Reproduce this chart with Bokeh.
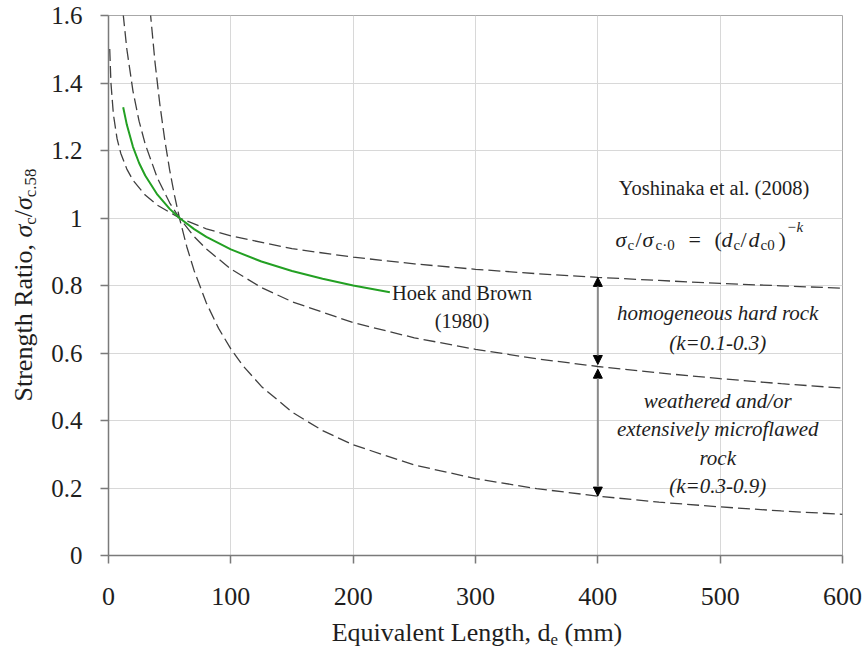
from bokeh.plotting import figure
from bokeh.layouts import row, column
from bokeh.models import (Range1d, FixedTicker, CustomJSTickFormatter, Label,
                          Arrow, NormalHead, ColumnDataSource, Div)
from bokeh.embed import file_html
from bokeh.resources import INLINE

# ---------------- data ----------------
x_k01 = [1, 2, 4, 7, 10, 15, 20, 30, 40, 58, 80, 100, 150, 200, 250, 300, 350, 400, 450, 500, 550, 600]
y_k01 = [1.501, 1.400, 1.307, 1.235, 1.192, 1.145, 1.112, 1.068, 1.038, 1.0, 0.968, 0.947, 0.909,
         0.884, 0.864, 0.848, 0.835, 0.824, 0.815, 0.806, 0.799, 0.792]

x_k03 = [12, 15, 20, 25, 30, 40, 50, 58, 70, 80, 100, 125, 150, 200, 250, 300, 350, 400, 450, 500, 550, 600]
y_k03 = [1.604, 1.500, 1.376, 1.287, 1.219, 1.118, 1.045, 1.0, 0.945, 0.908, 0.849, 0.794, 0.752,
         0.690, 0.645, 0.611, 0.583, 0.560, 0.541, 0.524, 0.509, 0.496]

x_k09 = [34, 38, 42, 46, 50, 54, 58, 64, 70, 80, 90, 100, 110, 125, 150, 175, 200, 250, 300, 350,
         400, 450, 500, 550, 600]
y_k09 = [1.617, 1.462, 1.336, 1.231, 1.142, 1.066, 1.0, 0.915, 0.844, 0.748, 0.673, 0.612, 0.562,
         0.501, 0.425, 0.370, 0.328, 0.268, 0.228, 0.198, 0.176, 0.158, 0.144, 0.132, 0.122]

x_hb = [12, 15, 20, 25, 30, 40, 50, 58, 70, 80, 100, 125, 150, 175, 200, 230]
y_hb = [1.328, 1.276, 1.211, 1.163, 1.126, 1.069, 1.027, 1.0, 0.967, 0.944, 0.907, 0.871, 0.843,
        0.820, 0.800, 0.780]

arrow_x = [400, 400]
arrow_y_from = [0.566, 0.552]
arrow_y_to = [0.824, 0.176]

x_ticks = [0, 100, 200, 300, 400, 500, 600]
x_tick_labels = ["0", "100", "200", "300", "400", "500", "600"]
y_ticks = [0, 0.2, 0.4, 0.6, 0.8, 1.0, 1.2, 1.4, 1.6]
y_tick_labels = ["0", "0.2", "0.4", "0.6", "0.8", "1", "1.2", "1.4", "1.6"]

# ---------------- styles ----------------
FONT = "Liberation Serif"
TXT = "#1e1e1e"
DASH_C = "#404040"
GREEN = "#23a023"

YDIV_W = 48
P_W, P_H = 818, 616
XDIV_H = 32

p = figure(width=P_W, height=P_H, x_range=Range1d(0, 600), y_range=Range1d(0, 1.6),
           output_backend="svg", toolbar_location=None,
           min_border_left=60, min_border_right=P_W - 60 - 734, min_border_top=15,
           min_border_bottom=P_H - 15 - 540)
p.background_fill_color = "white"
p.border_fill_color = "white"
p.outline_line_color = "#a8a8a8"
p.outline_line_width = 1

p.xaxis.ticker = FixedTicker(ticks=x_ticks)
p.yaxis.ticker = FixedTicker(ticks=y_ticks)
fmt_code = ("const i = tv.findIndex(t => Math.abs(t - tick) < 1e-9);"
            "return i >= 0 ? tl[i] : String(tick);")
p.xaxis.formatter = CustomJSTickFormatter(args=dict(tv=x_ticks, tl=x_tick_labels), code=fmt_code)
p.yaxis.formatter = CustomJSTickFormatter(args=dict(tv=y_ticks, tl=y_tick_labels), code=fmt_code)

for ax in (p.xaxis, p.yaxis):
    ax.axis_line_color = "#7a7a7a"
    ax.axis_line_width = 1.5
    ax.major_tick_line_color = "#7a7a7a"
    ax.major_tick_line_width = 1.5
    ax.major_tick_out = 8
    ax.major_tick_in = 0
    ax.minor_tick_line_color = None
    ax.major_label_text_font = FONT
    ax.major_label_text_color = TXT
p.yaxis.major_label_text_font_size = "25px"
p.xaxis.major_label_text_font_size = "26px"
p.xaxis.major_label_standoff = 24
p.yaxis.major_label_standoff = 18

p.grid.grid_line_color = "#d8d8d8"
p.grid.grid_line_width = 1

# ---------------- curves ----------------
for xs, ys in ((x_k01, y_k01), (x_k03, y_k03), (x_k09, y_k09)):
    p.line(xs, ys, line_color=DASH_C, line_width=1.3, line_dash="12 5")
p.line(x_hb, y_hb, line_color=GREEN, line_width=2)

# ---------------- arrows ----------------
asrc = ColumnDataSource(dict(x0=arrow_x, y0=arrow_y_from, x1=arrow_x, y1=arrow_y_to))
p.add_layout(Arrow(source=asrc, x_start="x0", y_start="y0", x_end="x1", y_end="y1",
                   line_color="#8a8a8a", line_width=2,
                   start=NormalHead(size=9, fill_color="black", line_color="black", line_width=1),
                   end=NormalHead(size=9, fill_color="black", line_color="black", line_width=1)))


def lab(x, y, text, size, style="normal", align="center", baseline="middle", units="data"):
    p.add_layout(Label(x=x, y=y, x_units=units, y_units=units, text=text,
                       text_font=FONT, text_font_size=f"{size}px", text_font_style=style,
                       text_color=TXT, text_align=align, text_baseline=baseline))


# ---------------- annotation texts ----------------
lab(289, 0.779, "Hoek and Brown", 20.5)
lab(289, 0.696, "(1980)", 20.5)
lab(495, 1.090, "Yoshinaka et al. (2008)", 20.5)
lab(498, 0.720, "homogeneous hard rock", 21, "italic")
lab(498, 0.631, "(k=0.1-0.3)", 21, "italic")
lab(498, 0.459, "weathered and/or", 21, "italic")
lab(498, 0.376, "extensively microflawed", 21, "italic")
lab(498, 0.290, "rock", 21, "italic")
lab(498, 0.207, "(k=0.3-0.9)", 21, "italic")

# formula  sigma_c / sigma_c0 = (d_e/d_e0)^-k   (screen units relative to the frame)
FL, FB = 108, 555  # frame left / bottom in page pixels
formula = [  # (page x, text, size, baseline page y, style)
    (615, "σ", 22, 239, "italic"), (627, "c", 15, 244, "normal"), (635, "/", 22, 239, "normal"),
    (642, "σ", 22, 239, "italic"), (655, "c·0", 15, 244, "normal"), (688, "=", 22, 239, "normal"),
    (714, "(", 22, 239, "normal"), (721, "d", 22, 239, "italic"), (733, "c", 15, 244, "normal"),
    (740, "/", 22, 239, "normal"), (748, "d", 22, 239, "italic"), (760, "c0", 15, 244, "normal"),
    (778, ")", 22, 239, "normal"), (786, "−k", 15, 226, "italic"),
]
for px, t, s, by, st in formula:
    lab(px - FL, FB - by, t, s, st, align="left", baseline="alphabetic", units="screen")

# ---------------- axis titles (HTML, with subscripts) ----------------
SUB = "font-size:0.65em;vertical-align:-0.22em;line-height:0;"
ytitle = (f"Strength Ratio, <i>σ</i><span style='{SUB}'>c</span>/"
          f"<i>σ</i><span style='{SUB}'>c.58</span>")
ydiv = Div(width=YDIV_W, height=P_H, margin=(0, 0, 0, 0),
           text=(f"<div style='width:48px;height:570px;display:flex;align-items:center;"
                 f"justify-content:center;'>"
                 f"<span style='display:inline-block;white-space:nowrap;transform:rotate(-90deg);"
                 f"font-family:\"{FONT}\";font-size:26px;line-height:26px;color:{TXT};'>"
                 f"{ytitle}</span></div>"))

xtitle = f"Equivalent Length, d<span style='{SUB}'>e</span> (mm)"
TOTAL_W = YDIV_W + P_W
xdiv = Div(width=TOTAL_W, height=XDIV_H, margin=(0, 0, 0, 0),
           text=(f"<div style='margin-left:{2 * 477 - TOTAL_W}px;width:{2 * (TOTAL_W - 477)}px;"
                 f"text-align:center;white-space:nowrap;padding-top:4px;"
                 f"font-family:\"{FONT}\";font-size:26px;line-height:26px;color:{TXT};'>"
                 f"{xtitle}</div>"))

layout = column(row(ydiv, p, spacing=0), xdiv, spacing=0)

open("out.html", "w").write(file_html(layout, INLINE))
